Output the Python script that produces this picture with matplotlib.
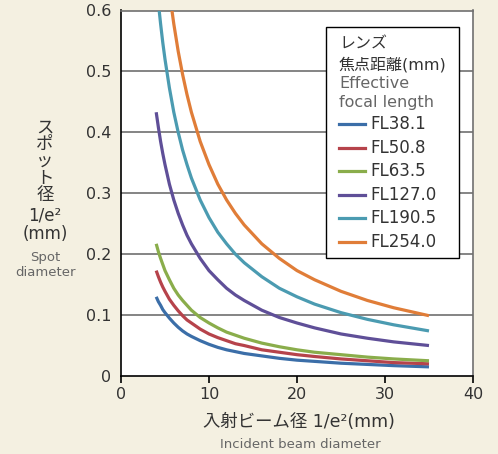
import matplotlib
matplotlib.use("Agg")
import matplotlib.pyplot as plt
from matplotlib.patches import Rectangle
from matplotlib.lines import Line2D

plt.rcParams['font.family'] = ['DejaVu Sans', 'Noto Sans CJK JP']

# incident beam diameter (mm)
beam = [4, 4.25, 4.5, 4.75, 5, 5.5, 6, 6.5, 7, 7.5, 8, 9, 10, 11, 12, 13, 14, 16, 18, 20, 22, 25, 28, 31, 35]

# spot diameter (mm)
fl38 = [0.130, 0.122, 0.116, 0.109, 0.104, 0.095, 0.087, 0.080, 0.074, 0.069, 0.065, 0.058, 0.052,
        0.047, 0.043, 0.040, 0.037, 0.033, 0.029, 0.026, 0.024, 0.021, 0.019, 0.017, 0.015]
fl50 = [0.173, 0.163, 0.154, 0.146, 0.139, 0.126, 0.116, 0.107, 0.099, 0.092, 0.087, 0.077, 0.069,
        0.063, 0.058, 0.053, 0.050, 0.043, 0.039, 0.035, 0.032, 0.028, 0.025, 0.022, 0.020]
fl63 = [0.217, 0.204, 0.193, 0.183, 0.173, 0.158, 0.144, 0.133, 0.124, 0.116, 0.108, 0.096, 0.087,
        0.079, 0.072, 0.067, 0.062, 0.054, 0.048, 0.043, 0.039, 0.035, 0.031, 0.028, 0.025]
fl127 = [0.433, 0.408, 0.385, 0.365, 0.347, 0.315, 0.289, 0.267, 0.248, 0.231, 0.217, 0.193, 0.173,
         0.158, 0.144, 0.133, 0.124, 0.108, 0.096, 0.087, 0.079, 0.069, 0.062, 0.056, 0.050]
fl190 = [0.650, 0.612, 0.578, 0.547, 0.520, 0.473, 0.433, 0.400, 0.371, 0.347, 0.325, 0.289, 0.260,
         0.236, 0.217, 0.200, 0.186, 0.163, 0.144, 0.130, 0.118, 0.104, 0.093, 0.084, 0.074]
fl254 = [0.867, 0.816, 0.770, 0.730, 0.693, 0.630, 0.578, 0.533, 0.495, 0.462, 0.433, 0.385, 0.347,
         0.315, 0.289, 0.267, 0.248, 0.217, 0.193, 0.173, 0.158, 0.139, 0.124, 0.112, 0.099]

labels = ["FL38.1", "FL50.8", "FL63.5", "FL127.0", "FL190.5", "FL254.0"]
colors = ["#3b6ea8", "#b6434b", "#8aad4b", "#5f4f98", "#4b9bb1", "#e07d38"]
series = [fl38, fl50, fl63, fl127, fl190, fl254]

xticks = [0, 10, 20, 30, 40]
yticks = [0, 0.1, 0.2, 0.3, 0.4, 0.5, 0.6]

W, H = 498, 454
bg = "#f4f0e1"
dark = "#333333"
gray = "#666666"

fig = plt.figure(figsize=(W / 100, H / 100), dpi=100, facecolor=bg)
ax = fig.add_axes([121 / W, 1 - 376 / H, (473 - 121) / W, (376 - 10.5) / H])
ax.set_facecolor("white")

for y in yticks[1:]:
    ax.axhline(y, color="#707070", lw=1.2, zorder=1)

for vals, c in zip(series, colors):
    ax.plot(beam, vals, color=c, lw=2.3, solid_capstyle="butt", solid_joinstyle="round", zorder=3)

ax.set_xlim(0, 40)
ax.set_ylim(0, 0.6)
ax.set_xticks(xticks)
ax.set_xticklabels([str(t) for t in xticks])
ax.set_yticks(yticks)
ax.set_yticklabels(["0", "0.1", "0.2", "0.3", "0.4", "0.5", "0.6"])
ax.tick_params(axis="x", direction="out", length=5, width=1.2, color="black",
               labelsize=11.5, labelcolor=dark, pad=3)
ax.tick_params(axis="y", length=0, labelsize=11.5, labelcolor=dark, pad=7)

for side in ["left", "bottom"]:
    ax.spines[side].set_color("black")
    ax.spines[side].set_linewidth(1.2)
for side in ["top", "right"]:
    ax.spines[side].set_color("#707070")
    ax.spines[side].set_linewidth(1.2)


def px(x, y):
    return x / W, 1 - y / H


# y axis label, stacked
fig.text(*px(45, 161), "ス\nポ\nッ\nト\n径", ha="center", va="center",
         fontsize=12.5, color=dark, linespacing=0.92)
fig.text(*px(45, 215), "1/e²", ha="center", va="center", fontsize=12, color=dark)
fig.text(*px(45, 234), "(mm)", ha="center", va="center", fontsize=12, color=dark)
fig.text(*px(45, 265), "Spot\ndiameter", ha="center", va="center",
         fontsize=9.5, color=gray, linespacing=1.15)

# x axis label
fig.text(*px(299, 422), "入射ビーム径 1/e²(mm)", ha="center", va="center",
         fontsize=12.5, color=dark)
fig.text(*px(300, 445), "Incident beam diameter", ha="center", va="center",
         fontsize=9.5, color=gray)

# legend box
x0, y0 = px(326, 258)
x1, y1 = px(459, 27)
fig.patches.append(Rectangle((x0, y0), x1 - x0, y1 - y0, transform=fig.transFigure,
                             facecolor="white", edgecolor="black", lw=1.0, zorder=5))
fig.text(*px(339, 44), "レンズ", ha="left", va="center", fontsize=11.5, color=dark, zorder=6)
fig.text(*px(339, 65), "焦点距離(mm)", ha="left", va="center", fontsize=11.5, color=dark, zorder=6)
fig.text(*px(339, 84), "Effective", ha="left", va="center", fontsize=11.5, color=gray, zorder=6)
fig.text(*px(339, 103), "focal length", ha="left", va="center", fontsize=11.5, color=gray, zorder=6)
for i, (lab, c) in enumerate(zip(labels, colors)):
    yy = 124 + i * 23.6
    xa, ya = px(339, yy)
    xb, _ = px(365, yy)
    fig.lines.append(Line2D([xa, xb], [ya, ya], transform=fig.transFigure,
                            color=c, lw=2.3, zorder=6))
    fig.text(*px(370, yy), lab, ha="left", va="center", fontsize=12, color=dark, zorder=6)

fig.savefig("out.png", dpi=100, facecolor=bg)
